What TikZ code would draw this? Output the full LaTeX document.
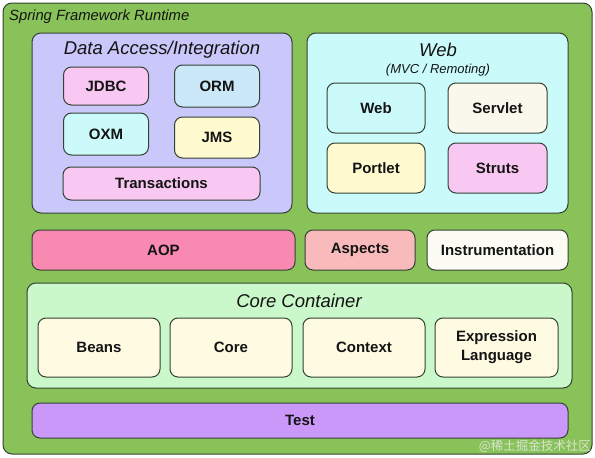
\documentclass[tikz,border=0pt]{standalone}
\usepackage{fontspec}
\setmainfont{Liberation Sans}
\newfontfamily\cjk{Noto Sans CJK SC}
\definecolor{outergreen}{RGB}{136,194,88}
\definecolor{edge}{RGB}{52,66,52}
\definecolor{dacol}{RGB}{202,200,250}
\definecolor{webcol}{RGB}{202,250,250}
\definecolor{pinkc}{RGB}{248,200,242}
\definecolor{bluec}{RGB}{202,232,248}
\definecolor{cyanc}{RGB}{204,250,250}
\definecolor{yellowc}{RGB}{255,250,208}
\definecolor{creamc}{RGB}{250,248,236}
\definecolor{aopc}{RGB}{248,138,178}
\definecolor{aspc}{RGB}{248,186,186}
\definecolor{instc}{RGB}{252,252,244}
\definecolor{corecol}{RGB}{202,248,202}
\definecolor{beanc}{RGB}{255,250,226}
\definecolor{testc}{RGB}{202,152,248}
\definecolor{txt}{RGB}{20,20,20}
\definecolor{wmark}{RGB}{218,228,210}
\tikzset{
  box/.style={draw=edge, line width=1pt, rounded corners=8pt, inner sep=0pt,
    text=txt, font=\fontsize{15}{19}\selectfont\bfseries, align=center},
  group/.style={draw=edge, line width=1pt, rounded corners=9pt, inner sep=0pt},
  gtitle/.style={text=txt, font=\fontsize{18.5}{20}\selectfont\itshape, inner sep=0pt},
}
\begin{document}
\begin{tikzpicture}[x=1pt,y=-1pt]
\useasboundingbox (0,0) rectangle (595,458);
\fill[white] (0,0) rectangle (595,458);
% outer
\node[group, fill=outergreen, minimum width=589pt, minimum height=451pt] (runtime) at (297.5,228.5) {};
\node[anchor=west, text=txt, inner sep=0pt, font=\fontsize{14.8}{16}\selectfont\itshape] (rtitle) at (9,17) {Spring Framework Runtime};
% data access
\node[group, fill=dacol, minimum width=260pt, minimum height=180pt] (da) at (162,123) {};
\node[gtitle] (datitle) at (162,50) {Data Access/Integration};
\node[box, fill=pinkc, minimum width=85pt, minimum height=38pt] (jdbc) at (106,86) {JDBC};
\node[box, fill=bluec, minimum width=85pt, minimum height=42pt] (orm) at (217,86) {ORM};
\node[box, fill=cyanc, minimum width=85pt, minimum height=42pt] (oxm) at (106,134) {OXM};
\node[box, fill=yellowc, minimum width=85pt, minimum height=41pt] (jms) at (217,137.5) {JMS};
\node[box, fill=pinkc, minimum width=197pt, minimum height=33pt] (trans) at (161.5,183.5) {Transactions};
% web
\node[group, fill=webcol, minimum width=261pt, minimum height=180pt] (web) at (437.5,123) {};
\node[gtitle] (webtitle) at (438,50) {Web};
\node[text=txt, inner sep=0pt, font=\fontsize{13}{14}\selectfont\itshape] (websub) at (438,70) {(MVC / Remoting)};
\node[box, fill=cyanc, minimum width=98pt, minimum height=50pt] (webm) at (376,108) {Web};
\node[box, fill=creamc, minimum width=99pt, minimum height=50pt] (servlet) at (497.5,108) {Servlet};
\node[box, fill=yellowc, minimum width=98pt, minimum height=50pt] (portlet) at (376,168) {Portlet};
\node[box, fill=pinkc, minimum width=99pt, minimum height=50pt] (struts) at (497.5,168) {Struts};
% row 2
\node[box, fill=aopc, minimum width=263pt, minimum height=40pt] (aop) at (163.5,250) {AOP};
\node[box, fill=aspc, minimum width=110pt, minimum height=40pt] (aspects) at (360,250) {Aspects};
\node[box, fill=instc, minimum width=141pt, minimum height=40pt] (instr) at (497.5,250) {Instrumentation};
% core container
\node[group, fill=corecol, minimum width=545pt, minimum height=105pt] (core) at (299.5,335.5) {};
\node[gtitle] (coretitle) at (299,301) {Core Container};
\node[box, fill=beanc, minimum width=122pt, minimum height=59pt] (beans) at (99,347.5) {Beans};
\node[box, fill=beanc, minimum width=122pt, minimum height=59pt] (corem) at (231,347.5) {Core};
\node[box, fill=beanc, minimum width=122pt, minimum height=59pt] (context) at (364,347.5) {Context};
\node[box, fill=beanc, minimum width=123pt, minimum height=59pt] (el) at (496.5,347.5) {Expression\\Language};
% test
\node[box, fill=testc, minimum width=536pt, minimum height=35pt] (test) at (300,420.5) {Test};
% watermark
\node[anchor=east, inner sep=0pt, text=wmark, font=\fontsize{12.5}{14}\cjk] (wm) at (591,446) {@稀土掘金技术社区};
\end{tikzpicture}
\end{document}
